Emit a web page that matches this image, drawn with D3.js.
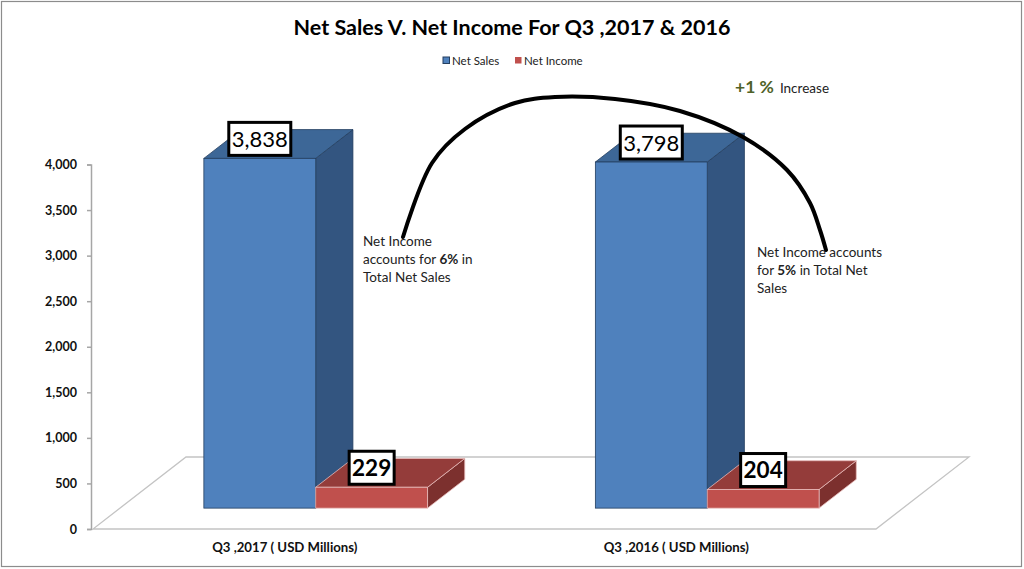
<!DOCTYPE html>
<html>
<head>
<meta charset="utf-8">
<script src="https://cdn.jsdelivr.net/npm/d3@7"></script>
<style>
  html,body{margin:0;padding:0;background:#fff;}
  svg{display:block;font-family:Lato, "Open Sans", sans-serif;}
</style>
</head>
<body>
<svg id="chart" width="1024" height="569"></svg>
<script>
// ---- data ----
const categories = ["Q3 ,2017 ( USD Millions)", "Q3 ,2016 ( USD Millions)"];
const seriesNames = ["Net Sales", "Net Income"];
const netSales = [3838, 3798];
const netIncome = [229, 204];
const yTickValues = [0, 500, 1000, 1500, 2000, 2500, 3000, 3500, 4000];
const titleText = "Net Sales V. Net Income For Q3 ,2017 & 2016";
const notes = [
  ["Net Income", ["accounts for ", "6%", " in"], "Total Net Sales"],
  ["Net Income accounts", ["for ", "5%", " in Total Net"], "Sales"]
];
// annotation curve (decorative connector)
const curvePts = [[403,237],[432,163],[465,129],[515,103],[555,97],[615,99],[680,111],[743,137],[787,170],[810,203],[820,230],[826,250]];

const colors = {
  "Net Sales": {front:"#4F81BD", top:"#3D6797", side:"#335580", edge:"#243F60"},
  "Net Income": {front:"#C0504D", top:"#943C3A", side:"#7C302E", edge:"#E6B9B8"}
};

const svg = d3.select("#chart");
const W = 1024, H = 569;

// border
svg.append("rect").attr("x",1.5).attr("y",1.5).attr("width",W-4).attr("height",H-4)
  .attr("fill","#fff").attr("stroke","#8c8c8c").attr("stroke-width",1.2);

// scales
const y = d3.scaleLinear().domain([0, 4000]).range([529, 164.5]);
const x0 = d3.scaleBand().domain(categories).range([93, 876]);
const x1 = d3.scaleBand().domain(seriesNames).range([0, x0.bandwidth()]).paddingInner(0).paddingOuter(0.75);

// 3D projection of depth
const DX = 93, DY = -72;
const f0 = 0.29, f1 = 0.69;

// floor
const yb = y(0);
svg.append("path")
  .attr("d", `M${x0.range()[0]},${yb} L${x0.range()[1]},${yb} L${x0.range()[1]+DX},${yb+DY} L${x0.range()[0]+DX},${yb+DY} Z`)
  .attr("fill","none").attr("stroke","#c4c4c4").attr("stroke-width",1.3);

// y axis
const axis = d3.axisLeft(y).tickValues(yTickValues).tickFormat(d3.format(",")).tickSize(4).tickPadding(10);
const ag = svg.append("g").attr("transform","translate(91,0)").call(axis);
ag.select(".domain").attr("stroke","#a6a6a6").attr("stroke-width",1.5);
ag.selectAll(".tick line").attr("stroke","#a6a6a6").attr("stroke-width",1.5);
ag.selectAll(".tick text").attr("font-size",12.5).attr("font-weight","bold").attr("fill","#111")
  .attr("font-family","Lato, sans-serif");

// bars
const bars = [];
categories.forEach((c, i) => {
  bars.push({cat:c, s:"Net Sales", v:netSales[i]});
  bars.push({cat:c, s:"Net Income", v:netIncome[i]});
});

const bw = x1.bandwidth();
const ddx = DX*(f1-f0), ddy = DY*(f1-f0);

bars.forEach(b => {
  const col = colors[b.s];
  const fx = x0(b.cat) + x1(b.s) + DX*f0;
  const fy0 = y(0) + DY*f0;
  const fyT = y(b.v) + DY*f0;
  b.fx = fx; b.fyT = fyT;
  const g = svg.append("g");
  g.append("path")
    .attr("d", `M${fx+bw},${fyT} L${fx+bw+ddx},${fyT+ddy} L${fx+bw+ddx},${fy0+ddy} L${fx+bw},${fy0} Z`)
    .attr("fill", col.side).attr("stroke", col.edge).attr("stroke-width",0.8);
  g.append("path")
    .attr("d", `M${fx},${fyT} L${fx+bw},${fyT} L${fx+bw+ddx},${fyT+ddy} L${fx+ddx},${fyT+ddy} Z`)
    .attr("fill", col.top).attr("stroke", col.edge).attr("stroke-width",0.8);
  g.append("rect").attr("x",fx).attr("y",fyT).attr("width",bw).attr("height",fy0-fyT)
    .attr("fill", col.front).attr("stroke", col.edge).attr("stroke-width",0.8);
});

// data labels
bars.forEach(b => {
  const big = b.s === "Net Sales";
  const bwid = big ? 62 : 45, bh = 33;
  const cx = b.fx + bw/2;
  const by = b.fyT - 3 - bh;
  svg.append("rect").attr("x", cx - bwid/2).attr("y", by).attr("width", bwid).attr("height", bh)
    .attr("fill","#fff").attr("stroke","#000").attr("stroke-width",3);
  svg.append("text").attr("x", cx).attr("y", by + bh/2 + 8)
    .attr("text-anchor","middle").attr("font-size", big ? 22 : 22.5)
    .attr("font-weight", big ? "normal" : "bold").attr("fill","#000")
    .attr("font-family", "Lato, sans-serif")
    .text(d3.format(",")(b.v));
});

// category labels
categories.forEach(c => {
  svg.append("text").attr("x", x0(c) + x0.bandwidth()/2 - 4).attr("y", 552)
    .attr("text-anchor","middle").attr("font-size",13.2).attr("font-weight","bold").attr("fill","#111")
    .text(c);
});

// title
svg.append("text").attr("x", 512).attr("y", 35).attr("text-anchor","middle")
  .attr("font-size",20).attr("font-weight","bold").attr("fill","#000")
  .attr("textLength", 437).attr("lengthAdjust","spacingAndGlyphs")
  .text(titleText);

// legend
const leg = svg.append("g").attr("transform","translate(443,57)");
const legX = [0, 72];
seriesNames.forEach((s, i) => {
  leg.append("rect").attr("x", legX[i]).attr("y", 0).attr("width", 6.5).attr("height", 6.5)
    .attr("fill", colors[s].front).attr("stroke", i===0 ? "#243F60" : "none").attr("stroke-width",1);
  leg.append("text").attr("x", legX[i] + 9).attr("y", 8).attr("font-size",11.5).attr("fill","#222").text(s);
});

// notes
const noteX = [363, 757], noteY = [246, 257];
notes.forEach((n, i) => {
  const t = svg.append("text").attr("font-size",13.5).attr("fill","#222");
  t.append("tspan").attr("x", noteX[i]).attr("y", noteY[i]).text(n[0]);
  const l2 = t.append("tspan").attr("x", noteX[i]).attr("y", noteY[i] + 18);
  l2.append("tspan").text(n[1][0]);
  l2.append("tspan").attr("font-weight","bold").text(n[1][1]);
  l2.append("tspan").text(n[1][2]);
  t.append("tspan").attr("x", noteX[i]).attr("y", noteY[i] + 36).text(n[2]);
});

// +1% increase
const inc = svg.append("text").attr("x", 735).attr("y", 93);
inc.append("tspan").attr("font-size",17.5).attr("font-weight","bold").attr("fill","#4F6228").text("+1 %");
inc.append("tspan").attr("font-size",13.5).attr("fill","#222").attr("dx",6).text("Increase");

// connector curve
svg.append("path")
  .attr("d", d3.line().curve(d3.curveCatmullRom)(curvePts))
  .attr("fill","none").attr("stroke","#000").attr("stroke-width",4).attr("stroke-linecap","round");
</script>
</body>
</html>
